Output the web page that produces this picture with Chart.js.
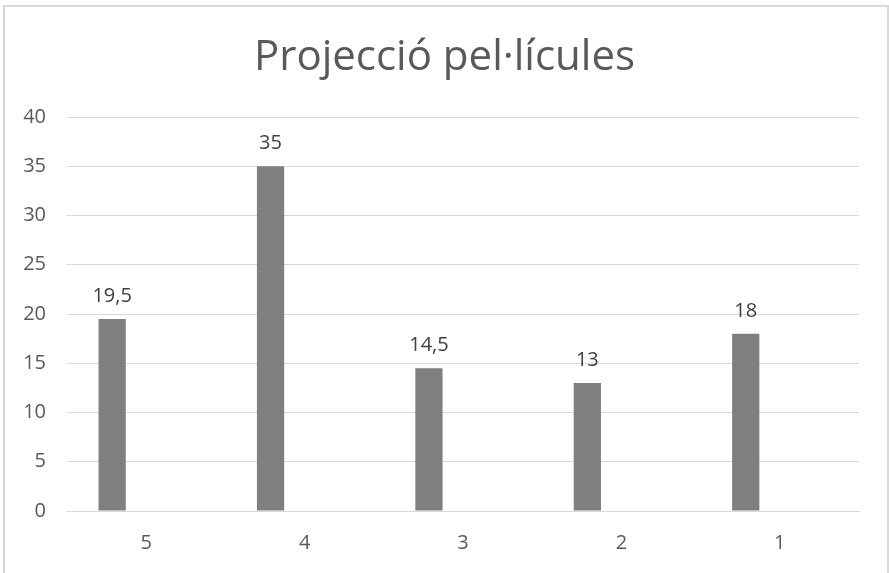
<!DOCTYPE html>
<html>
<head>
<meta charset="utf-8">
<script src="https://cdn.jsdelivr.net/npm/chart.js@4"></script>
<style>
  html, body { margin: 0; padding: 0; background: #fff; }
  #wrap { width: 889px; height: 573px; }
</style>
</head>
<body>
<div id="wrap"><canvas id="grafic" width="889" height="573"></canvas></div>
<script>
var categories = ['5', '4', '3', '2', '1'];
var valors = [19.5, 35, 14.5, 13, 18];
var buida = [null, null, null, null, null]; // second (empty) series, as in the sheet
var yTicks = [0, 5, 10, 15, 20, 25, 30, 35, 40];

var font = '"Open Sans", Lato, sans-serif';

// light grey frame round the whole chart
var marc = {
    id: 'marc',
    beforeDraw: function (chart) {
        var ctx = chart.ctx;
        ctx.save();
        ctx.fillStyle = '#fff';
        ctx.fillRect(0, 0, chart.width, chart.height);
        ctx.strokeStyle = '#d9d9d9';
        ctx.lineWidth = 2;
        ctx.strokeRect(4, 6, 884, 700);
        ctx.restore();
    }
};

// value labels above the bars, decimal comma
var etiquetes = {
    id: 'etiquetes',
    afterDatasetsDraw: function (chart) {
        var ctx = chart.ctx;
        var meta = chart.getDatasetMeta(0);
        ctx.save();
        ctx.font = '20px ' + font;
        ctx.fillStyle = '#404040';
        ctx.textAlign = 'center';
        ctx.textBaseline = 'alphabetic';
        meta.data.forEach(function (bar, i) {
            var txt = String(valors[i]).replace('.', ',');
            ctx.fillText(txt, bar.x, bar.y - 17);
        });
        ctx.restore();
    }
};

var myChart = new Chart(document.getElementById('grafic').getContext('2d'), {
    type: 'bar',
    data: {
        labels: categories,
        datasets: [{
            label: 'Sèrie 1',
            data: valors,
            backgroundColor: '#7f7f7f',
            categoryPercentage: 0.86,
            barPercentage: 0.4
        }, {
            label: 'Sèrie 2',
            data: buida,
            backgroundColor: '#a5a5a5',
            categoryPercentage: 0.86,
            barPercentage: 0.4
        }]
    },
    options: {
        responsive: false,
        animation: false,
        layout: { padding: { left: 0, right: 0, top: 0, bottom: -2 } },
        plugins: {
            legend: { display: false },
            tooltip: { enabled: false },
            title: {
                display: true,
                text: 'Projecció pel·lícules',
                color: '#595959',
                font: { family: font, size: 42, weight: 'normal' },
                padding: { top: 33, bottom: 33.6 }
            }
        },
        scales: {
            x: {
                grid: { display: false, drawTicks: false },
                border: { display: true, color: '#d9d9d9', width: 1 },
                ticks: { color: '#595959', font: { family: font, size: 20 }, padding: 20 }
            },
            y: {
                min: 0,
                max: 40,
                afterFit: function (scale) { scale.width = 67; },
                afterBuildTicks: function (scale) {
                    scale.ticks = yTicks.map(function (v) { return { value: v }; });
                },
                grid: { color: '#d9d9d9', lineWidth: 1, drawTicks: false },
                border: { display: false },
                ticks: { color: '#595959', font: { family: font, size: 20 }, padding: 21 }
            },
            // empty right-hand margin
            marge: {
                position: 'right',
                display: true,
                afterFit: function (scale) { scale.width = 30; },
                grid: { display: false, drawTicks: false },
                border: { display: false },
                ticks: { display: false }
            }
        }
    },
    plugins: [marc, etiquetes]
});
</script>
</body>
</html>
